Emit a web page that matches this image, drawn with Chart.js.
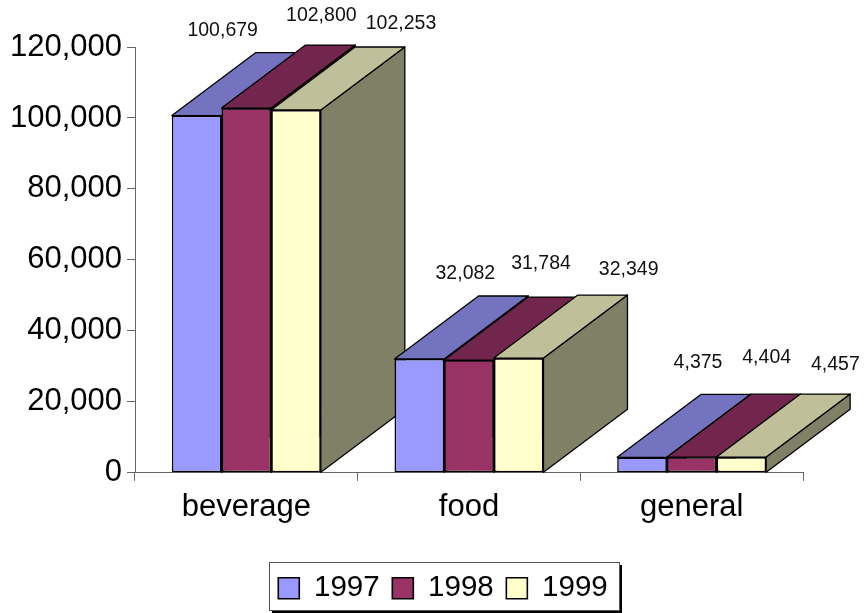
<!DOCTYPE html>
<html>
<head>
<meta charset="utf-8">
<title>Sales by category</title>
<script src="https://cdn.jsdelivr.net/npm/chart.js@4/dist/chart.umd.min.js"></script>
<style>
    html, body { margin: 0; padding: 0; background: #fff; }
    canvas { display: block; }
</style>
</head>
<body>
<canvas id="chart" width="865" height="613"></canvas>
<script>
const categories = ['beverage', 'food', 'general'];
const years = ['1997', '1998', '1999'];
const values1997 = [100679, 32082, 4375];
const values1998 = [102800, 31784, 4404];
const values1999 = [102253, 32349, 4457];

const frontColors = ['#9999FF', '#993366', '#FFFFCC'];
const topColors = ['#7373BF', '#73264D', '#BFBF99'];
const sideColors = ['#4D4D80', '#4D1A33', '#808066'];

// depth of the fake 3D box, in pixels
const depthX = 84;
const depthY = 63;

// where each value label sits relative to its bar top: [dx, dy] per series, per category
const labelOffsets = [
    [[26, -85], [46, -85], [56, -95]],
    [[75, -92], [72, -96], [75, -100]],
    [[105, -86], [110, -88], [94, -92]]
];

const fontFamily = '"Liberation Sans", Arial, sans-serif';
const fmt = (v) => v.toLocaleString('en-US');

// Draws tops and sides behind the native bars, which are the front faces
const box3d = {
    id: 'box3d',
    beforeDatasetsDraw(chart) {
        const ctx = chart.ctx;
        ctx.save();
        ctx.strokeStyle = '#000';
        ctx.lineWidth = 1.3;
        ctx.lineJoin = 'round';
        // category by category so the nearer group covers the one on its left
        categories.forEach((cat, j) => {
            chart.data.datasets.forEach((ds, i) => {
                const bar = chart.getDatasetMeta(i).data[j];
                const half = bar.width / 2;
                const l = bar.x - half, r = bar.x + half, t = bar.y, b = bar.base;
                ctx.fillStyle = sideColors[i];
                ctx.beginPath();
                ctx.moveTo(r, t);
                ctx.lineTo(r + depthX, t - depthY);
                ctx.lineTo(r + depthX, b - depthY);
                ctx.lineTo(r, b);
                ctx.closePath();
                ctx.fill();
                ctx.stroke();
                ctx.fillStyle = topColors[i];
                ctx.beginPath();
                ctx.moveTo(l, t);
                ctx.lineTo(l + depthX, t - depthY);
                ctx.lineTo(r + depthX, t - depthY);
                ctx.lineTo(r, t);
                ctx.closePath();
                ctx.fill();
                ctx.stroke();
            });
        });
        ctx.restore();
    },
    afterDatasetsDraw(chart) {
        const ctx = chart.ctx;
        ctx.save();
        ctx.font = '19.5px ' + fontFamily;
        ctx.fillStyle = '#111';
        ctx.textAlign = 'center';
        ctx.textBaseline = 'middle';
        chart.data.datasets.forEach((ds, i) => {
            chart.getDatasetMeta(i).data.forEach((bar, j) => {
                const off = labelOffsets[i][j];
                ctx.fillText(fmt(ds.data[j]), bar.x + off[0], bar.y + off[1]);
            });
        });
        ctx.restore();
    }
};

// Legend frame with the hard drop shadow
const legendFrame = {
    id: 'legendFrame',
    afterLayout(chart) {
        chart.legend.left += 41.5;
        chart.legend.right += 41.5;
    },
    beforeDraw(chart) {
        const ctx = chart.ctx;
        ctx.save();
        ctx.fillStyle = '#000';
        ctx.fillRect(272, 565, 350, 48);
        ctx.fillStyle = '#fff';
        ctx.strokeStyle = '#555';
        ctx.lineWidth = 1;
        ctx.fillRect(269.5, 562.5, 350, 48);
        ctx.strokeRect(269.5, 562.5, 350, 48);
        ctx.restore();
    }
};

new Chart(document.getElementById('chart').getContext('2d'), {
    type: 'bar',
    data: {
        labels: categories,
        datasets: [
            { label: years[0], data: values1997, backgroundColor: frontColors[0] },
            { label: years[1], data: values1998, backgroundColor: frontColors[1] },
            { label: years[2], data: values1999, backgroundColor: frontColors[2] }
        ].map(ds => ({
            ...ds,
            borderColor: '#000',
            borderWidth: 1.6,
            borderSkipped: false,
            categoryPercentage: 0.669,
            barPercentage: 1
        }))
    },
    options: {
        responsive: false,
        animation: false,
        devicePixelRatio: 1,
        layout: { padding: { top: 47, right: 62 } },
        plugins: {
            title: { display: false },
            tooltip: { enabled: false },
            legend: {
                display: true,
                position: 'bottom',
                labels: {
                    boxWidth: 21,
                    boxHeight: 21,
                    padding: 12.65,
                    color: '#000',
                    font: { family: fontFamily, size: 29.5 }
                }
            }
        },
        scales: {
            x: {
                afterFit: (scale) => { scale.height = 88; },
                grid: { offset: true, drawOnChartArea: false, tickLength: 8, color: '#666' },
                border: { color: '#666' },
                ticks: { color: '#000', padding: 8, maxRotation: 0, font: { family: fontFamily, size: 31 } }
            },
            y: {
                min: 0,
                max: 120000,
                afterFit: (scale) => { scale.width = 135; },
                grid: { drawOnChartArea: false, tickLength: 8, color: '#666' },
                border: { color: '#666' },
                ticks: {
                    stepSize: 20000,
                    color: '#000',
                    padding: 5,
                    font: { family: fontFamily, size: 31 },
                    callback: (v) => fmt(v)
                }
            }
        }
    },
    plugins: [legendFrame, box3d]
});
</script>
</body>
</html>
